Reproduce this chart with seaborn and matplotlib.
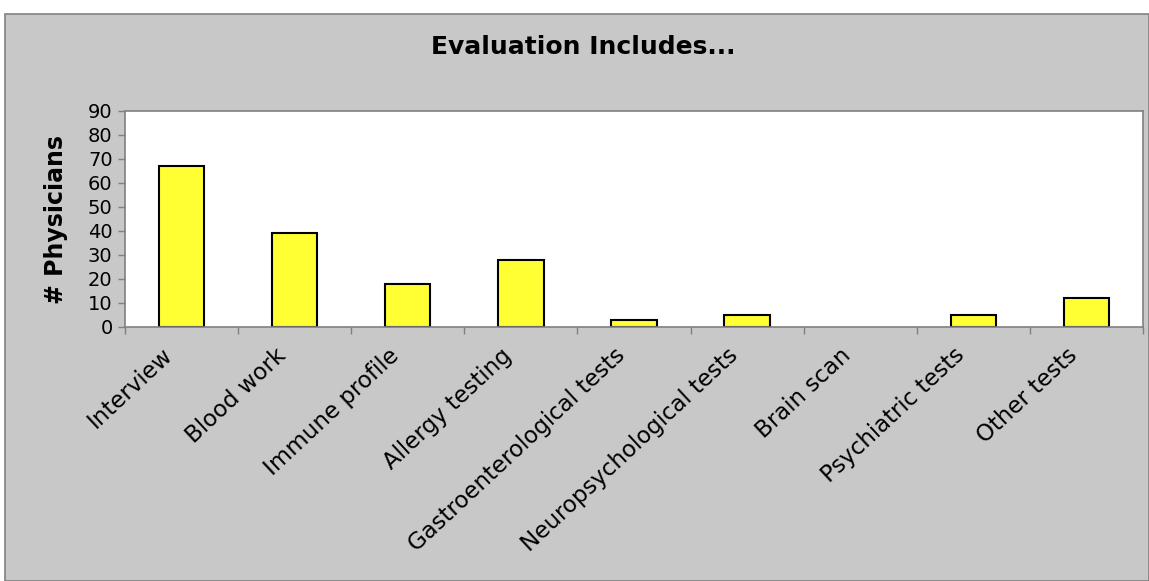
import matplotlib.pyplot as plt
import matplotlib.transforms as mtransforms
import seaborn as sns
import pandas as pd
from matplotlib.patches import Rectangle
from matplotlib.ticker import FixedLocator

categories = ["Interview", "Blood work", "Immune profile", "Allergy testing",
              "Gastroenterological tests", "Neuropsychological tests", "Brain scan",
              "Psychiatric tests", "Other tests"]
physicians = [67, 39, 18, 28, 3, 5, 0, 5, 12]

data = pd.DataFrame({"Test": categories, "Physicians": physicians})

sns.set_style("white")
plt.rcParams["font.family"] = ["DejaVu Sans"]
plt.rcParams["text.color"] = "black"
plt.rcParams["xtick.labelcolor"] = "black"
plt.rcParams["ytick.labelcolor"] = "black"
plt.rcParams["axes.labelcolor"] = "black"

fig = plt.figure(figsize=(11.49, 5.81), dpi=100, facecolor="white")
# grey chart area with border
fig.patches.append(Rectangle((0.004, 0.0), 0.996, 1 - 14 / 581, transform=fig.transFigure,
                             facecolor="#C8C8C8", edgecolor="#808080", linewidth=1.2, zorder=-1))

ax = fig.add_axes([125 / 1149, 1 - 327 / 581, 1018 / 1149, 216 / 581])
sns.barplot(data=data, x="Test", y="Physicians", color="#FFFF33", width=0.4,
            edgecolor="black", linewidth=1.5, saturation=1, ax=ax)
# empty bars are not outlined
for bar in ax.patches:
    if bar.get_height() == 0:
        bar.set_linewidth(0)

ax.set_xlim(-0.5, len(categories) - 0.5)
ax.set_ylim(0, 90)
ax.set_yticks(range(0, 91, 10))
ax.tick_params(axis="y", labelsize=14, length=5, width=1, color="#808080", direction="out", left=True, pad=4)
ax.tick_params(axis="x", which="major", length=0, labelsize=16.5, pad=12)
ax.xaxis.set_minor_locator(FixedLocator([i - 0.5 for i in range(len(categories) + 1)]))
ax.tick_params(axis="x", which="minor", length=5, width=1, color="#808080", direction="out", bottom=True)
shift = mtransforms.ScaledTranslation(-20 / 100, 0, fig.dpi_scale_trans)
for lab in ax.get_xticklabels():
    lab.set_rotation(43)
    lab.set_ha("right")
    lab.set_rotation_mode("anchor")
    lab.set_transform(lab.get_transform() + shift)

for side in ["left", "bottom", "top", "right"]:
    ax.spines[side].set_color("#808080")
    ax.spines[side].set_linewidth(1.2)

ax.set_xlabel("")
ax.set_ylabel("# Physicians", fontsize=17, fontweight="bold", labelpad=14)
fig.text(0.508, 1 - 47 / 581, "Evaluation Includes...", ha="center", va="center",
         fontsize=18, fontweight="bold")

fig.savefig("out.png", dpi=100)
